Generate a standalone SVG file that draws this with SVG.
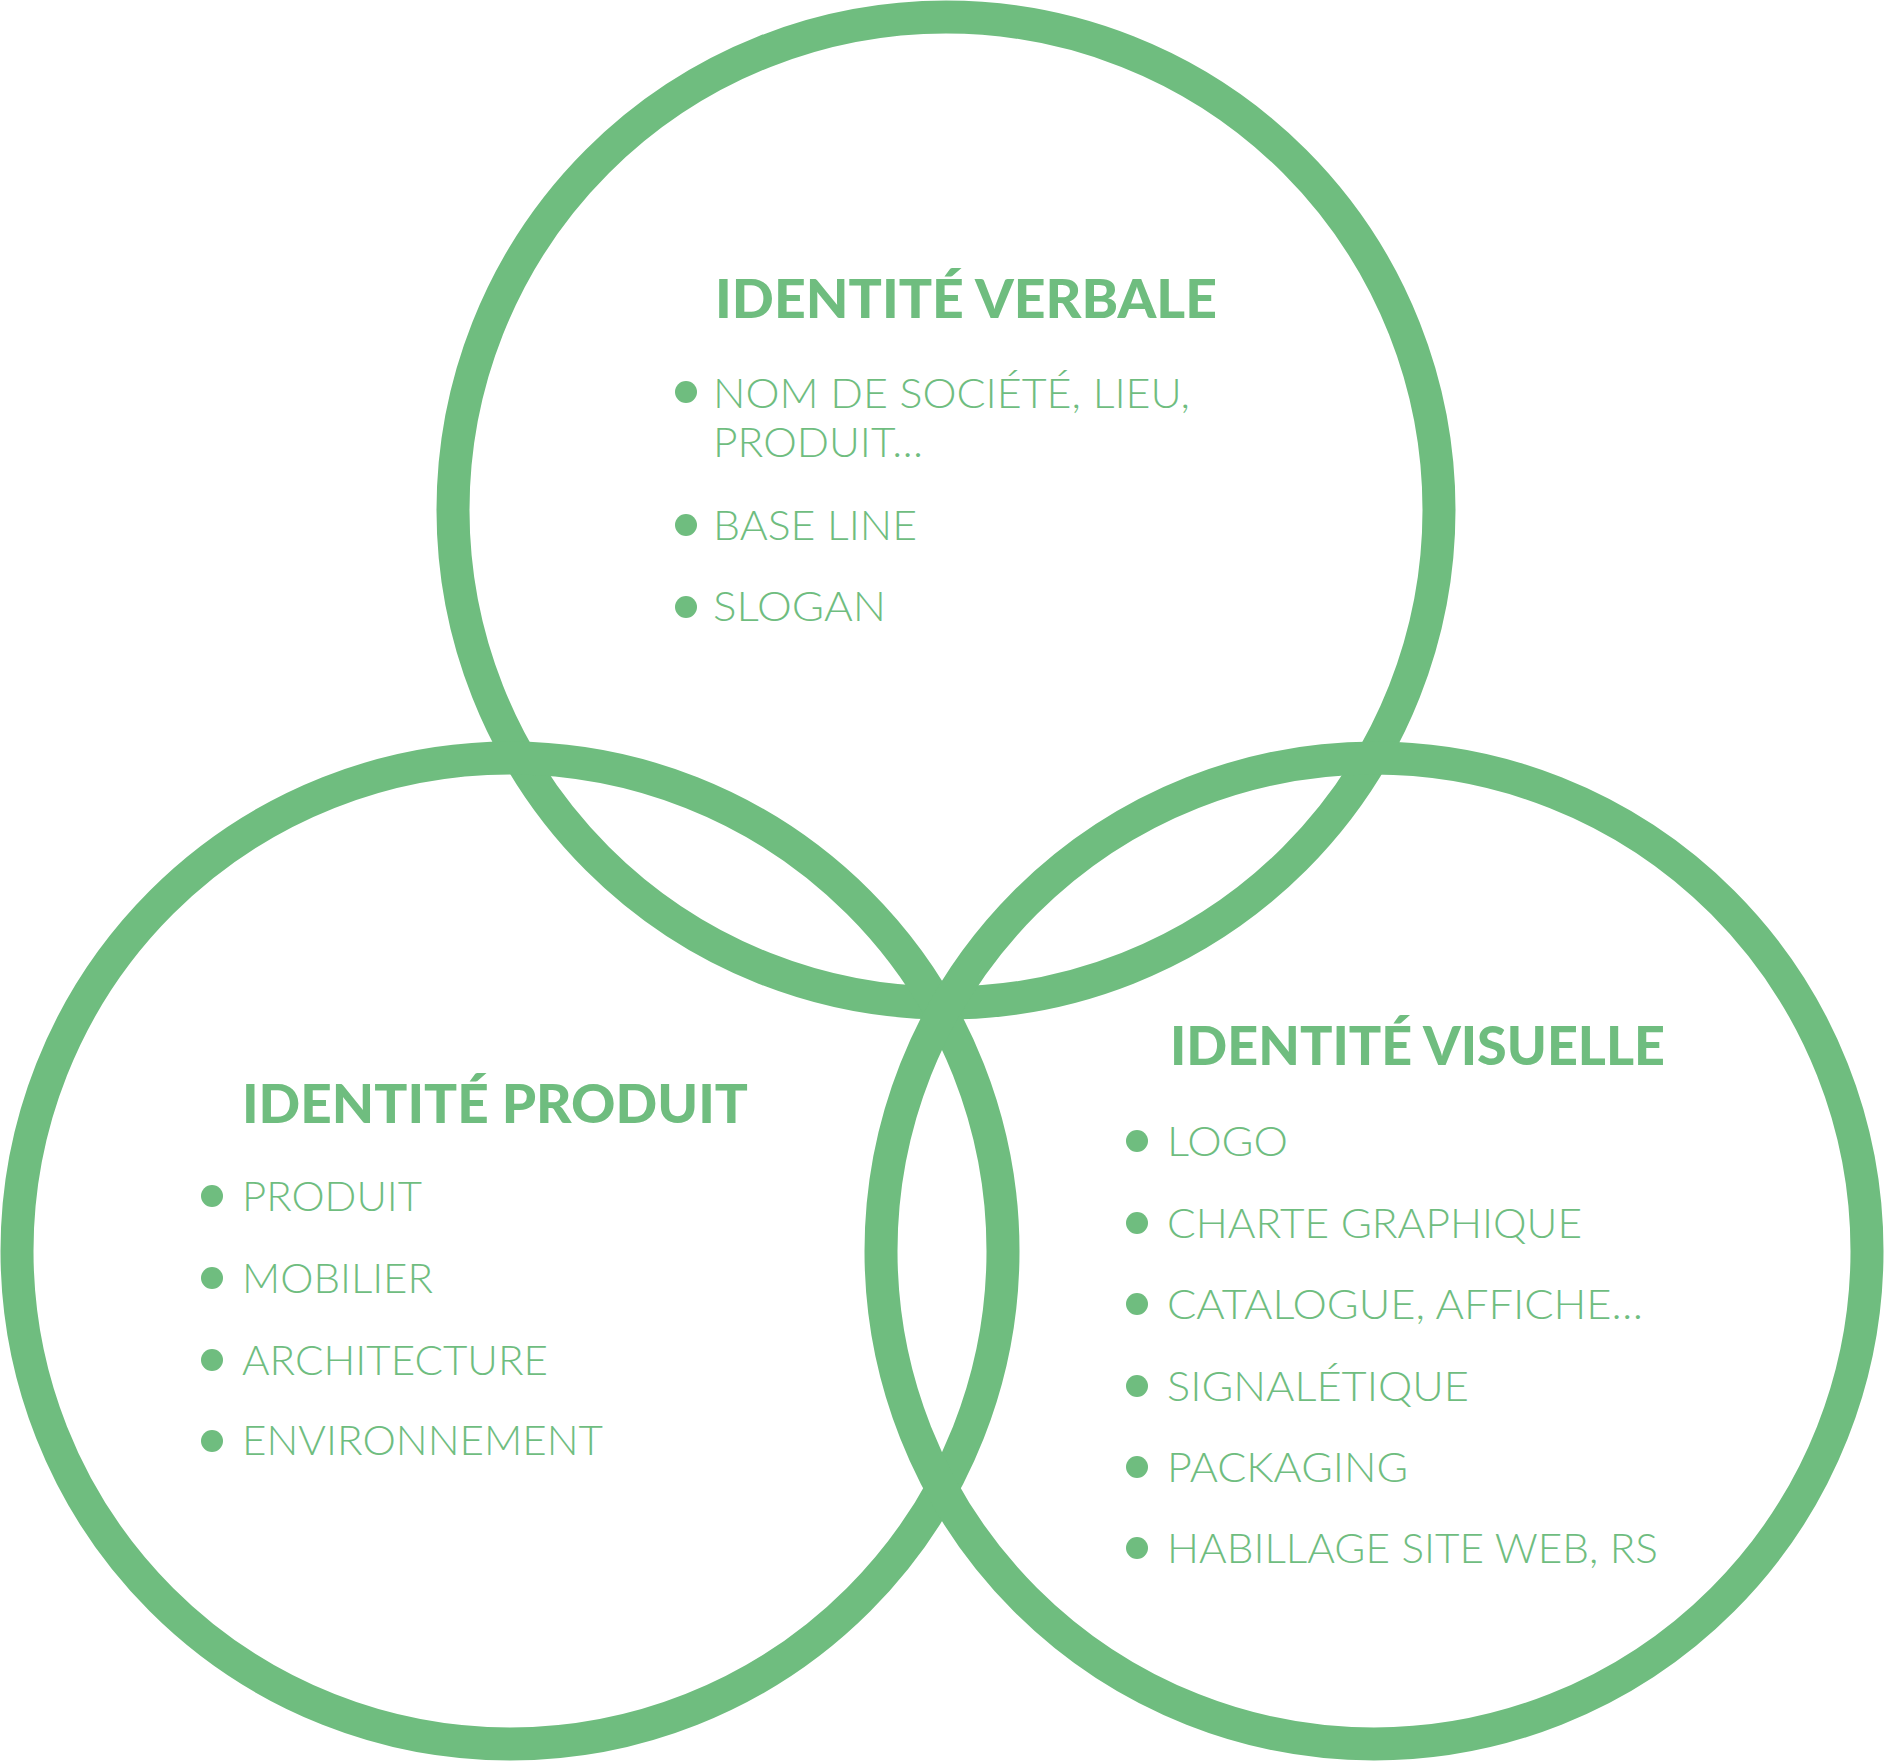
<svg xmlns="http://www.w3.org/2000/svg" width="1885" height="1761" viewBox="0 0 1885 1761">
<style>
.ring{fill:none;stroke:#6fbd7f;stroke-width:33}
.title{font-family:Lato,"Liberation Sans",sans-serif;font-weight:900;font-size:54px;fill:#6fbd7f}
.item{font-family:Lato,"Liberation Sans",sans-serif;font-weight:300;font-size:42px;fill:#6fbd7f}
.dot{fill:#6fbd7f}
</style>
<rect width="1885" height="1761" fill="#ffffff"/>
<g id="connectors"></g>
<g id="verbale">
<circle class="ring" cx="946" cy="510" r="493"/>
<text class="title" x="715" y="318" textLength="502" lengthAdjust="spacingAndGlyphs">IDENTITÉ VERBALE</text>
<circle class="dot" cx="686" cy="392" r="11"/>
<text class="item" x="713" y="408" textLength="477" lengthAdjust="spacingAndGlyphs">NOM DE SOCIÉTÉ, LIEU,</text>
<text class="item" x="713" y="457" textLength="210" lengthAdjust="spacingAndGlyphs">PRODUIT…</text>
<circle class="dot" cx="686" cy="525" r="11"/>
<text class="item" x="713" y="540" textLength="204" lengthAdjust="spacingAndGlyphs">BASE LINE</text>
<circle class="dot" cx="686" cy="607" r="11"/>
<text class="item" x="713" y="621" textLength="173" lengthAdjust="spacingAndGlyphs">SLOGAN</text>
</g>
<g id="produit">
<circle class="ring" cx="510" cy="1251" r="493"/>
<text class="title" x="242" y="1123" textLength="506" lengthAdjust="spacingAndGlyphs">IDENTITÉ PRODUIT</text>
<circle class="dot" cx="212" cy="1196" r="11"/>
<text class="item" x="242" y="1211" textLength="180" lengthAdjust="spacingAndGlyphs">PRODUIT</text>
<circle class="dot" cx="212" cy="1278" r="11"/>
<text class="item" x="242" y="1293" textLength="191" lengthAdjust="spacingAndGlyphs">MOBILIER</text>
<circle class="dot" cx="212" cy="1360" r="11"/>
<text class="item" x="242" y="1375" textLength="306" lengthAdjust="spacingAndGlyphs">ARCHITECTURE</text>
<circle class="dot" cx="212" cy="1441" r="11"/>
<text class="item" x="242" y="1455" textLength="361" lengthAdjust="spacingAndGlyphs">ENVIRONNEMENT</text>
</g>
<g id="visuelle">
<circle class="ring" cx="1374" cy="1251" r="493"/>
<text class="title" x="1170" y="1065" textLength="495" lengthAdjust="spacingAndGlyphs">IDENTITÉ VISUELLE</text>
<circle class="dot" cx="1137" cy="1141" r="11"/>
<text class="item" x="1167" y="1156" textLength="121" lengthAdjust="spacingAndGlyphs">LOGO</text>
<circle class="dot" cx="1137" cy="1223" r="11"/>
<text class="item" x="1167" y="1238" textLength="415" lengthAdjust="spacingAndGlyphs">CHARTE GRAPHIQUE</text>
<circle class="dot" cx="1137" cy="1304" r="11"/>
<text class="item" x="1167" y="1319" textLength="476" lengthAdjust="spacingAndGlyphs">CATALOGUE, AFFICHE…</text>
<circle class="dot" cx="1137" cy="1386" r="11"/>
<text class="item" x="1167" y="1401" textLength="302" lengthAdjust="spacingAndGlyphs">SIGNALÉTIQUE</text>
<circle class="dot" cx="1137" cy="1467" r="11"/>
<text class="item" x="1167" y="1482" textLength="241" lengthAdjust="spacingAndGlyphs">PACKAGING</text>
<circle class="dot" cx="1137" cy="1548" r="11"/>
<text class="item" x="1167" y="1563" textLength="491" lengthAdjust="spacingAndGlyphs">HABILLAGE SITE WEB, RS</text>
</g>
</svg>
